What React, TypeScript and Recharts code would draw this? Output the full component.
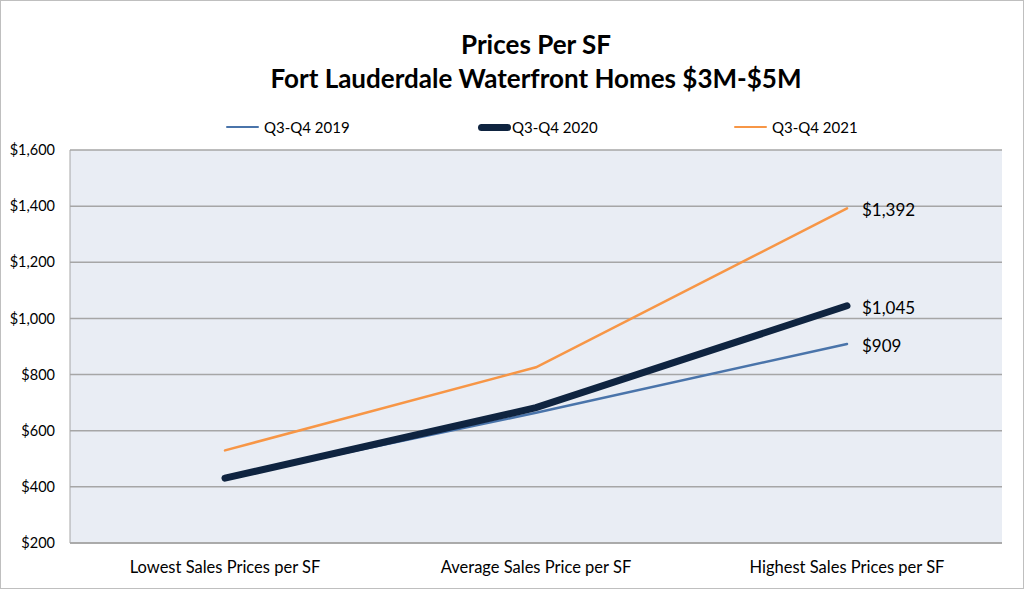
import React from 'react';
import { LineChart, Line, XAxis, YAxis, CartesianGrid, LabelList } from 'recharts';

// categories and series
const categories = ['Lowest Sales Prices per SF', 'Average Sales Price per SF', 'Highest Sales Prices per SF'];
const q2019 = [431, 664, 909];
const q2020 = [431, 682, 1045];
const q2021 = [530, 826, 1392];
const yTicks = [200, 400, 600, 800, 1000, 1200, 1400, 1600];

const series = [
  { key: 'q2019', name: 'Q3-Q4 2019', color: '#4A74AA', width: 2.5, values: q2019 },
  { key: 'q2020', name: 'Q3-Q4 2020', color: '#0F2440', width: 7, values: q2020 },
  { key: 'q2021', name: 'Q3-Q4 2021', color: '#F79646', width: 2.5, values: q2021 },
];

const data = categories.map((name, i) => {
  const row: any = { name };
  series.forEach((s) => (row[s.key] = s.values[i]));
  return row;
});

const font = 'Lato, "Open Sans", sans-serif';
const money = (v: number) => '$' + v.toLocaleString('en-US');

const lastLabel = (props: any) => {
  const { x, y, value, index } = props;
  if (index !== categories.length - 1) return null;
  return (
    <text x={x + 15} y={y} dy={8} fontSize={17} fill="#000" fontFamily={font}>
      {money(value)}
    </text>
  );
};

const legendX = [226, 478, 734];

const App: React.FC = () => {
  return (
    <div style={{ position: 'absolute', left: 0, top: 0, width: 1024, height: 589, background: '#fff', fontFamily: font }}>
      <div style={{ position: 'absolute', left: 0, top: 0, width: 1022, height: 587, border: '1px solid #BFBFBF' }} />
      <div style={{ position: 'absolute', left: 0, top: 27, width: 1072, textAlign: 'center', fontWeight: 700, fontSize: 26, lineHeight: '34px', color: '#000' }}>
        Prices Per SF
        <br />
        Fort Lauderdale Waterfront Homes $3M-$5M
      </div>
      {series.map((s, i) => (
        <div key={s.key} style={{ position: 'absolute', left: legendX[i], top: 118, display: 'flex', alignItems: 'center', fontSize: 15 }}>
          <span style={{ display: 'inline-block', width: 33, height: s.width, borderRadius: s.width / 2, background: s.color, marginRight: i === 1 ? 1 : 5 }} />
          <span>{s.name}</span>
        </div>
      ))}
      <div style={{ position: 'absolute', left: 0, top: 0 }}>
        <LineChart width={1024} height={589} data={data} margin={{ top: 150, right: 22, bottom: 0, left: 0 }}>
          <CartesianGrid vertical={false} fill="#E9EDF4" stroke="#A6A6A6" strokeWidth={1.5} />
          <XAxis
            dataKey="name"
            height={46}
            interval={0}
            padding={{ left: 155, right: 155 }}
            tickLine={false}
            tickSize={0}
            axisLine={{ stroke: '#A6A6A6', strokeWidth: 1.5 }}
            tick={{ fontSize: 16.5, fill: '#000', fontFamily: font }}
            tickMargin={18}
          />
          <YAxis
            width={70}
            domain={[200, 1600]}
            ticks={yTicks}
            tickFormatter={money}
            tickLine={false}
            tickSize={0}
            axisLine={{ stroke: '#A6A6A6', strokeWidth: 1 }}
            tick={{ fontSize: 14.5, fill: '#000', fontFamily: font }}
            tickMargin={15}
          />
          {series.map((s) => (
            <Line
              key={s.key}
              dataKey={s.key}
              name={s.name}
              stroke={s.color}
              strokeWidth={s.width}
              strokeLinecap="round"
              dot={false}
              activeDot={false}
              isAnimationActive={false}
            >
              <LabelList dataKey={s.key} content={lastLabel} />
            </Line>
          ))}
        </LineChart>
      </div>
    </div>
  );
};

export default App;
